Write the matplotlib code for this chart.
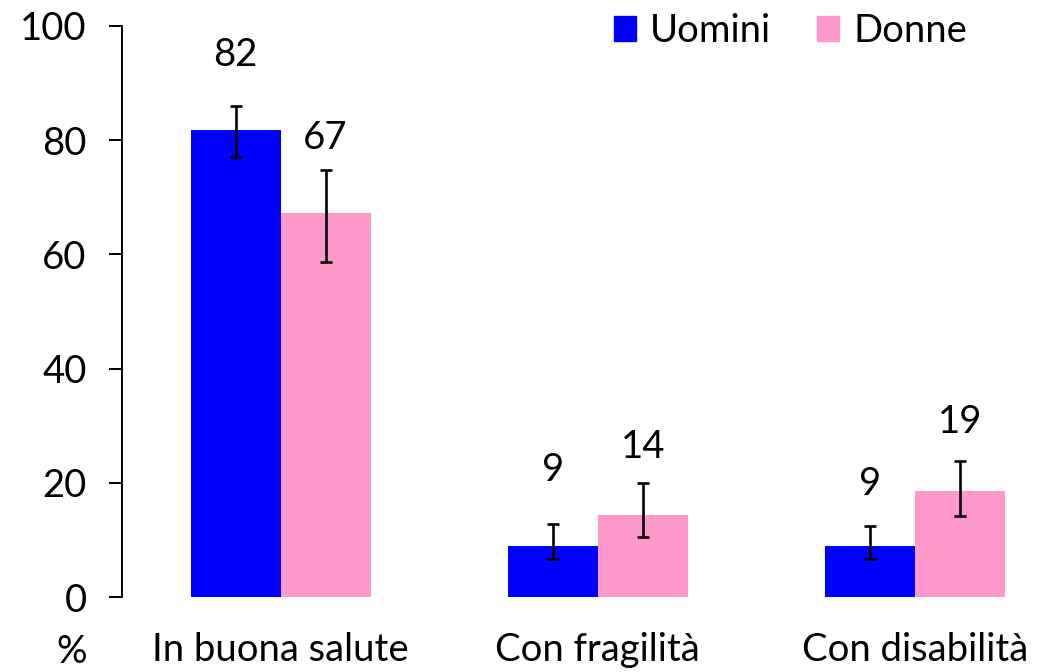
import matplotlib

matplotlib.use("Agg")
import matplotlib.pyplot as plt  # noqa: E402
import numpy as np  # noqa: E402
from matplotlib.patches import Patch  # noqa: E402

plt.rcParams["font.family"] = ["Lato", "DejaVu Sans"]

categorie = ["In buona salute", "Con fragilità", "Con disabilità"]
serie = ["Uomini", "Donne"]
uomini = [81.8, 9.0, 9.0]
donne = [67.3, 14.4, 18.6]
uomini_ic_basso = [77.1, 6.6, 6.6]
uomini_ic_alto = [86.0, 12.8, 12.4]
donne_ic_basso = [58.7, 10.5, 14.2]
donne_ic_alto = [74.8, 19.9, 23.8]
etichette_uomini = ["82", "9", "9"]
etichette_donne = ["67", "14", "19"]

COLORI = {"Uomini": "#0000FF", "Donne": "#FF99CC"}
FS = 27.5
# altezza (in unità dell'asse y) a cui stanno le etichette dei valori
Y_ETICH_U = [94.9, 22.2, 19.8]
Y_ETICH_D = [80.4, 26.3, 30.6]


def main() -> None:
    fig = plt.figure(figsize=(10.51, 6.72), dpi=100)
    ax = fig.add_axes([122 / 1051, 75 / 672, 951.5 / 1051, 571 / 672])

    x = np.arange(len(categorie))
    w = 0.284
    valori = {"Uomini": uomini, "Donne": donne}
    bassi = {"Uomini": uomini_ic_basso, "Donne": donne_ic_basso}
    alti = {"Uomini": uomini_ic_alto, "Donne": donne_ic_alto}
    for i, s in enumerate(serie):
        xs = x + (i - 0.5) * w
        v = np.array(valori[s])
        ax.bar(xs, v, w, color=COLORI[s], zorder=2)
        err = [v - np.array(bassi[s]), np.array(alti[s]) - v]
        ax.errorbar(xs, v, yerr=err, fmt="none", ecolor="black",
                    elinewidth=1.9, capsize=4.6, capthick=1.9, zorder=3)

    for xi, t, y in zip(x - 0.5 * w, etichette_uomini, Y_ETICH_U):
        ax.text(xi, y, t, ha="center", va="center", fontsize=FS)
    for xi, t, y in zip(x + 0.5 * w, etichette_donne, Y_ETICH_D):
        ax.text(xi, y, t, ha="center", va="center", fontsize=FS)

    ax.set_xlim(-0.5, 2.5)
    ax.set_ylim(0, 100)
    ax.set_yticks(range(0, 101, 20))
    ax.set_xticks(x)
    ax.set_xticklabels(categorie)
    ax.tick_params(axis="y", length=9.4, width=1.4, pad=16, labelsize=FS)
    ax.tick_params(axis="x", length=0, pad=25, labelsize=FS)
    for side in ("top", "right", "bottom"):
        ax.spines[side].set_visible(False)
    ax.spines["left"].set_linewidth(1.4)

    fig.text(72 / 1051, 1 - 634 / 672, "%", ha="center", va="top", fontsize=FS)

    handles = [Patch(color=COLORI[s], label=s) for s in serie]
    ax.legend(handles=handles, ncol=2, frameon=False, fontsize=FS,
              loc="center left", bbox_to_anchor=(614 / 1051, 1 - 31 / 672),
              bbox_transform=fig.transFigure, handlelength=0.58,
              handleheight=0.63, handletextpad=0.37, columnspacing=1.2,
              borderaxespad=0, borderpad=0)

    fig.savefig("out.png", dpi=100)


if __name__ == "__main__":
    main()
